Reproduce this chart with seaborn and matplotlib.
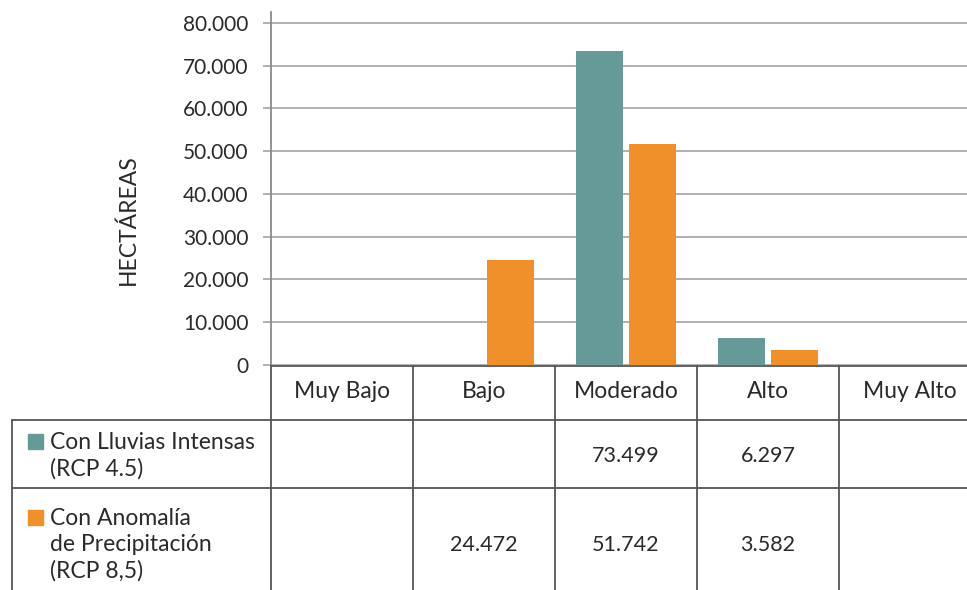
"""
Hectáreas por nivel de amenaza - barras + tabla de datos
"""

import matplotlib
matplotlib.use('Agg')
import matplotlib.pyplot as plt
from matplotlib.patches import Rectangle
from matplotlib.ticker import FuncFormatter
import seaborn as sns
import pandas as pd
import numpy as np

# datos
categorias = ['Muy Bajo', 'Bajo', 'Moderado', 'Alto', 'Muy Alto']
series = ['Con Lluvias Intensas\n(RCP 4.5)', 'Con Anomalía\nde Precipitación\n(RCP 8,5)']
lluvias_intensas = [None, None, 73499, 6297, None]
anomalia_precip = [None, 24472, 51742, 3582, None]
colores = ['#669A99', '#F0902A']
etiqueta_y = 'HECTÁREAS'

sns.set_style('white')
plt.rcParams['font.family'] = ['Lato', 'DejaVu Sans']
plt.rcParams['font.size'] = 15

# tabla larga para seaborn
filas = []
for serie, valores in zip(series, [lluvias_intensas, anomalia_precip]):
    for cat, v in zip(categorias, valores):
        if v is not None:
            filas.append({'categoria': cat, 'serie': serie, 'valor': v})
df = pd.DataFrame(filas)

W, H = 967, 590
fig = plt.figure(figsize=(W / 100, H / 100), dpi=100)
texto = '#2A2A2A'

# eje del grafico (en pixeles de la imagen)
ax = fig.add_axes([271 / W, (H - 365) / H, 710 / W, 353 / H])
sns.barplot(data=df, x='categoria', y='valor', hue='serie', order=categorias,
            hue_order=series, palette=dict(zip(series, colores)), saturation=1,
            width=0.74, gap=0.1, errorbar=None, legend=False, ax=ax, edgecolor='none')

ax.set_xlim(-0.5, 4.5)
ax.set_ylim(0, 82573)
ax.set_yticks(np.arange(0, 80001, 10000))
ax.yaxis.set_major_formatter(FuncFormatter(lambda v, p: f'{int(v):,}'.replace(',', '.')))
ax.set_xticks([])
ax.set_xlabel('')
ax.set_ylabel('')
ax.grid(axis='y', color='#A3A3A3', linewidth=1.2)
ax.set_axisbelow(True)
ax.tick_params(axis='y', left=True, length=6, width=1.2, color='#A3A3A3', pad=10,
               labelsize=15, labelcolor=texto)
for s in ['top', 'right', 'bottom']:
    ax.spines[s].set_visible(False)
ax.spines['left'].set_color('#8A8A8A')
ax.spines['left'].set_linewidth(1.3)

fig.text(128 / W, 1 - 220 / H, etiqueta_y, rotation=90, ha='center', va='center',
         fontsize=16.5, color=texto)

# tabla de datos
tx = fig.add_axes([12 / W, 0, 969 / W, 225 / H])
izq = -0.5 - 259 / 142
tx.set_xlim(izq, 4.5)
tx.set_ylim(590, 365)
tx.axis('off')

lc = '#555555'
lw = 1.3
tx.plot([-0.5, 4.5], [366, 366], color=lc, lw=lw, clip_on=False)
for yy in [420, 488]:
    tx.plot([izq, 4.5], [yy, yy], color=lc, lw=lw, clip_on=False)
tx.plot([izq, izq], [420, 595], color=lc, lw=lw, clip_on=False)
for k in range(len(categorias) + 1):
    tx.plot([k - 0.5, k - 0.5], [366, 595], color=lc, lw=lw, clip_on=False)

for k, cat in enumerate(categorias):
    tx.text(k, 392, cat, ha='center', va='center', fontsize=16.5, color=texto)

filas_y = [456, 545]
for serie, valores, color, yc in zip(series, [lluvias_intensas, anomalia_precip], colores, filas_y):
    n = serie.count('\n') + 1
    y_top = yc - (n - 1) * 27.5 / 2
    tx.add_patch(Rectangle((izq + 16 / 142, y_top + 7), 15 / 142, -15, color=color,
                           clip_on=False))
    tx.text(izq + 38 / 142, yc, serie, ha='left', va='center', fontsize=16.5,
            color=texto, linespacing=1.3)
    for k, v in enumerate(valores):
        if v is not None:
            tx.text(k, yc, f'{v:,}'.replace(',', '.'), ha='center', va='center',
                    fontsize=15.5, color=texto)

fig.savefig('out.png', dpi=100)
